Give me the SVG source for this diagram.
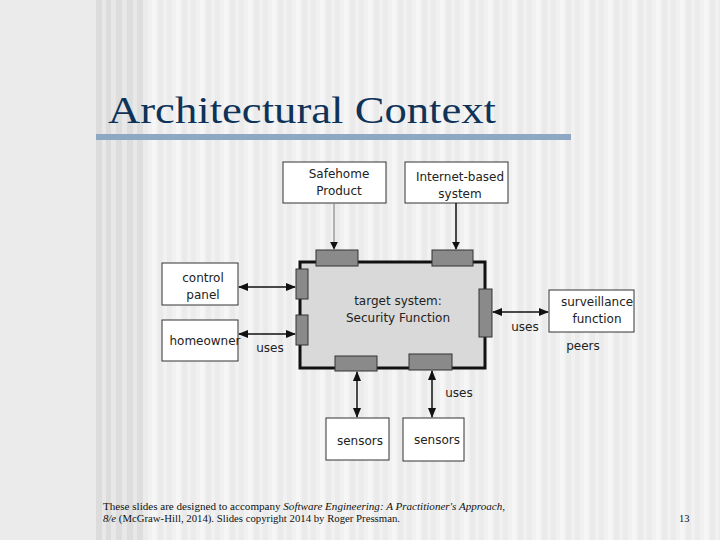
<svg xmlns="http://www.w3.org/2000/svg" width="720" height="540" viewBox="0 0 720 540">
<style>
.box{fill:#ffffff;stroke:#333333;stroke-width:1}
.port{fill:#8a8a8a;stroke:#333333;stroke-width:1}
.lbl{font-family:"DejaVu Sans","Liberation Sans",sans-serif;font-size:12px;fill:#222222;text-anchor:middle}
.conn{stroke:#111111;stroke-width:1.5;fill:none}
.foot{font-family:"Liberation Serif",serif;font-size:10.5px;fill:#111111}
</style>
<defs>
<marker id="ah" viewBox="0 0 10 10" refX="9" refY="5" markerWidth="8" markerHeight="8" orient="auto-start-reverse" markerUnits="userSpaceOnUse">
<path d="M0,0 L10,5 L0,10 z" fill="#111111"/>
</marker>
<marker id="ahs" viewBox="0 0 10 10" refX="9" refY="5" markerWidth="10" markerHeight="10" orient="auto-start-reverse" markerUnits="userSpaceOnUse">
<path d="M0,1 L10,5 L0,9 z" fill="#111111"/>
</marker>
<pattern id="stripes" x="143" y="0" width="24" height="540" patternUnits="userSpaceOnUse">
<rect x="0" y="0" width="24" height="540" fill="#f1f1f1"/>
<rect x="0" y="0" width="5" height="540" fill="#ebebeb"/>
<rect x="9" y="0" width="4" height="540" fill="#f6f6f6"/>
<rect x="15" y="0" width="5" height="540" fill="#eaeaea"/>
</pattern>
</defs>
<g id="background">
<rect x="0" y="0" width="720" height="540" fill="#ebebeb"/>
<rect x="143" y="0" width="577" height="540" fill="url(#stripes)"/>
<rect x="96" y="0" width="47" height="540" fill="#e8e8e8"/>
<rect x="96" y="0" width="6" height="540" fill="#dcdcdc"/>
<rect x="106" y="0" width="5" height="540" fill="#dcdcdc"/>
<rect x="116" y="0" width="6" height="540" fill="#dddddd"/>
<rect x="127" y="0" width="6" height="540" fill="#dddddd"/>
<rect x="137" y="0" width="6" height="540" fill="#dedede"/>
</g>
<g id="title">
<text x="108" y="123" font-family="'Book Antiqua','Palatino Linotype','Liberation Serif',serif" font-size="38" fill="#0f3358" textLength="388" lengthAdjust="spacingAndGlyphs">Architectural Context</text>
<rect x="96" y="134" width="475" height="6" fill="#8ea7c2"/>
</g>
<g id="target-system">
<rect x="300" y="262" width="185" height="106" fill="#d9d9d9" stroke="#111111" stroke-width="3"/>
<text class="lbl" x="398" y="305">target system:</text>
<text class="lbl" x="398" y="322">Security Function</text>
<rect class="port" x="316" y="250" width="42" height="16"/>
<rect class="port" x="432" y="250" width="41" height="16"/>
<rect class="port" x="296" y="269" width="12" height="30"/>
<rect class="port" x="296" y="315" width="12" height="30"/>
<rect class="port" x="479" y="289" width="13" height="48"/>
<rect class="port" x="335" y="356" width="42" height="15"/>
<rect class="port" x="409" y="354" width="43" height="16"/>
</g>
<g id="safehome-product">
<rect class="box" x="283" y="162" width="103" height="41"/>
<text class="lbl" x="339" y="178">Safehome</text>
<text class="lbl" x="339" y="195">Product</text>
</g>
<g id="internet-based-system">
<rect class="box" x="405" y="162" width="103" height="41"/>
<text class="lbl" x="460" y="181">Internet-based</text>
<text class="lbl" x="460" y="198">system</text>
</g>
<g id="control-panel">
<rect class="box" x="162" y="263" width="76" height="42"/>
<text class="lbl" x="203" y="282">control</text>
<text class="lbl" x="203" y="299">panel</text>
</g>
<g id="homeowner">
<rect class="box" x="162" y="320" width="76" height="41"/>
<text class="lbl" x="205" y="345">homeowner</text>
</g>
<g id="surveillance-function">
<rect class="box" x="549" y="290" width="85" height="42"/>
<text class="lbl" x="597" y="306">surveillance</text>
<text class="lbl" x="597" y="323">function</text>
</g>
<g id="sensors-1">
<rect class="box" x="326" y="418" width="63" height="42"/>
<text class="lbl" x="360" y="445">sensors</text>
</g>
<g id="sensors-2">
<rect class="box" x="403" y="418" width="61" height="43"/>
<text class="lbl" x="437" y="444">sensors</text>
</g>
<g id="connectors">
<line x1="334" y1="203" x2="334" y2="249" stroke="#888888" stroke-width="1.2" marker-end="url(#ah)"/>
<line x1="456" y1="203" x2="456" y2="249" class="conn" stroke-width="1.2" marker-end="url(#ah)"/>
<line x1="239" y1="287" x2="295" y2="287" class="conn" marker-start="url(#ahs)" marker-end="url(#ahs)"/>
<line x1="239" y1="334" x2="295" y2="334" class="conn" marker-start="url(#ahs)" marker-end="url(#ahs)"/>
<line x1="493" y1="312" x2="548" y2="312" class="conn" marker-start="url(#ahs)" marker-end="url(#ahs)"/>
<line x1="357" y1="372" x2="357" y2="417" class="conn" marker-start="url(#ahs)" marker-end="url(#ahs)"/>
<line x1="432" y1="371" x2="432" y2="417" class="conn" marker-start="url(#ahs)" marker-end="url(#ahs)"/>
<text class="lbl" x="270" y="352">uses</text>
<text class="lbl" x="525" y="331">uses</text>
<text class="lbl" x="583" y="350">peers</text>
<text class="lbl" x="459" y="397">uses</text>
</g>
<g id="footer">
<text class="foot" x="103" y="510" textLength="402" lengthAdjust="spacingAndGlyphs">These slides are designed to accompany <tspan font-style="italic">Software Engineering: A Practitioner's Approach,</tspan></text>
<text class="foot" x="103" y="522" textLength="297" lengthAdjust="spacingAndGlyphs"><tspan font-style="italic">8/e</tspan> (McGraw-Hill, 2014). Slides copyright 2014 by Roger Pressman.</text>
<text class="foot" x="679" y="522">13</text>
</g>
</svg>
